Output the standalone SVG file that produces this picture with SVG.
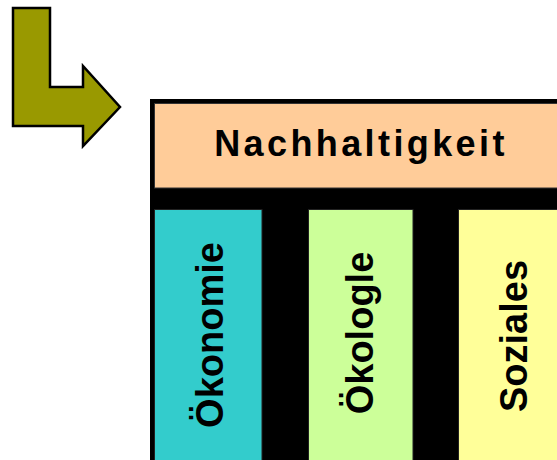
<svg xmlns="http://www.w3.org/2000/svg" width="557" height="460" viewBox="0 0 557 460">
  <style>
    .lbl { font-family: "Liberation Sans", Arial, sans-serif; font-weight: bold; fill: #000; }
    .pillar { stroke: #222; stroke-width: 1; }
  </style>
  <rect width="557" height="460" fill="#fff"/>

  <!-- bent arrow pointing into the frame -->
  <g id="arrow">
    <polygon points="13,8 50,8 50,87 83,87 83,66 120,107 83,146 83,126 13,126"
             fill="#999900" stroke="#000" stroke-width="2.5" stroke-linejoin="miter"/>
  </g>

  <!-- black frame behind the roof and pillars -->
  <g id="frame">
    <rect x="150" y="99" width="420" height="370" fill="#000"/>
  </g>

  <g id="roof">
    <rect x="154.5" y="103.5" width="410" height="84.5" fill="#FFCC99" stroke="#333" stroke-width="1"/>
    <text class="lbl" x="361" y="156" font-size="36" letter-spacing="3.4" text-anchor="middle">Nachhaltigkeit</text>
  </g>

  <g id="oekonomie">
    <rect class="pillar" x="154.5" y="209.5" width="107.5" height="260" fill="#33CCCC"/>
    <text class="lbl" font-size="38" text-anchor="middle" transform="translate(223,335) rotate(-90)">Ökonomie</text>
  </g>

  <g id="oekologie">
    <rect class="pillar" x="308.5" y="209.5" width="104.5" height="260" fill="#CCFF99"/>
    <text class="lbl" font-size="38" text-anchor="middle" transform="translate(373,333) rotate(-90)">Ökologle</text>
  </g>

  <g id="soziales">
    <rect class="pillar" x="458.5" y="209.5" width="110" height="260" fill="#FFFF99"/>
    <text class="lbl" font-size="38" text-anchor="middle" transform="translate(527,336) rotate(-90)">Soziales</text>
  </g>

  <g id="connectors"></g>
</svg>
